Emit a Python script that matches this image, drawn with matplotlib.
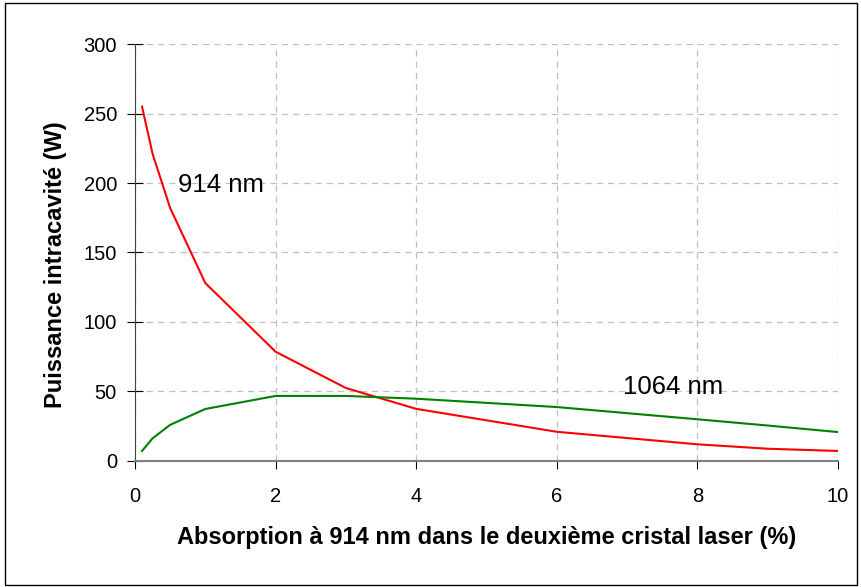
import matplotlib
matplotlib.use("Agg")
import matplotlib.pyplot as plt
from matplotlib.patches import Rectangle

plt.rcParams['font.family'] = ['Liberation Sans', 'DejaVu Sans']

# absorption in the second laser crystal (%)
absorption = [0.1, 0.25, 0.5, 1, 2, 3, 4, 6, 8, 9, 10]
# intracavity power (W)
power_914 = [255, 221, 182, 128, 78.6, 52.5, 37.5, 21, 12, 8.8, 7.2]
power_1064 = [7.2, 16.3, 26, 37.4, 46.8, 46.8, 44.8, 38.8, 30, 25.5, 20.8]

fig = plt.figure(figsize=(8.61, 5.87), dpi=100)
ax = fig.add_axes([0.1568, 0.2147, 0.8165, 0.7103])

ax.plot(absorption, power_914, color="#FF0000", lw=1.5)
ax.plot(absorption, power_1064, color="#008000", lw=1.5)

ax.set_xlim(0, 10)
ax.set_ylim(0, 300)
ax.set_xticks(range(0, 11, 2))
ax.set_yticks(range(0, 301, 50))
ax.grid(True, color="#BFBFBF", ls=(0, (5, 4)), lw=0.9)
ax.set_axisbelow(True)

for s in ("top", "right"):
    ax.spines[s].set_visible(False)
ax.spines["left"].set_color("#404040")
ax.spines["bottom"].set_color("#808080")
ax.spines["bottom"].set_linewidth(1.5)
ax.tick_params(axis="y", direction="inout", length=12, labelsize=14.5, pad=7)
ax.tick_params(axis="x", direction="out", length=6, labelsize=14.5, pad=13)

ax.text(0.61, 193.7, "914 nm", fontsize=18.5, va="baseline")
ax.text(6.94, 48.2, "1064 nm", fontsize=18.5, va="baseline")

ax.set_xlabel("Absorption à 914 nm dans le deuxième cristal laser (%)",
              fontsize=17, fontweight="bold", labelpad=14)
ax.set_ylabel("Puissance intracavité (W)", fontsize=17, fontweight="bold",
              labelpad=12, y=0.471)

fig.patches.append(Rectangle((5 / 861, 2 / 587), 852 / 861, 582 / 587,
                             transform=fig.transFigure, fill=False,
                             edgecolor="black", lw=1))

fig.savefig("out.png", dpi=100)
